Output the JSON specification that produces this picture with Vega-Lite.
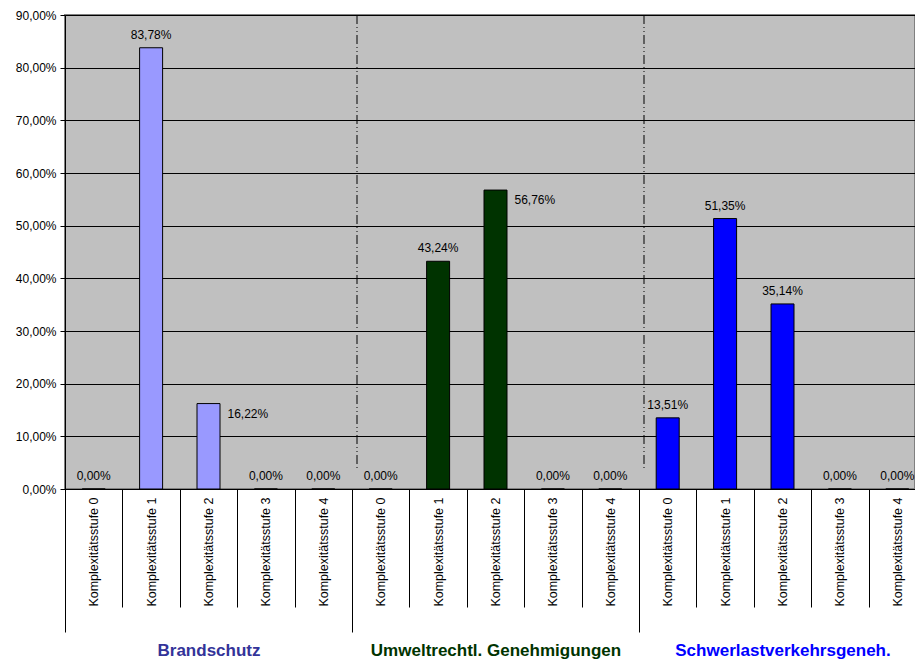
{
  "$schema": "https://vega.github.io/schema/vega-lite/v6.json",
  "autosize": {"type": "none"},
  "padding": {"left": 65, "top": 15, "right": 0, "bottom": 175},
  "width": 850,
  "height": 474,
  "background": "#ffffff",
  "config": {
    "font": "Liberation Sans",
    "view": {"fill": "#C0C0C0", "stroke": "#808080", "strokeWidth": 2},
    "axis": {"labelFont": "Liberation Sans", "labelColor": "#000000", "tickColor": "#000000", "domainColor": "#000000"}
  },
  "datasets": {
    "anteile": [
      {"gruppe": "Brandschutz", "stufe": "Komplexitätsstufe 0", "anteil": 0},
      {"gruppe": "Brandschutz", "stufe": "Komplexitätsstufe 1", "anteil": 83.78},
      {"gruppe": "Brandschutz", "stufe": "Komplexitätsstufe 2", "anteil": 16.22},
      {"gruppe": "Brandschutz", "stufe": "Komplexitätsstufe 3", "anteil": 0},
      {"gruppe": "Brandschutz", "stufe": "Komplexitätsstufe 4", "anteil": 0},
      {"gruppe": "Umweltrechtl. Genehmigungen", "stufe": "Komplexitätsstufe 0", "anteil": 0},
      {"gruppe": "Umweltrechtl. Genehmigungen", "stufe": "Komplexitätsstufe 1", "anteil": 43.24},
      {"gruppe": "Umweltrechtl. Genehmigungen", "stufe": "Komplexitätsstufe 2", "anteil": 56.76},
      {"gruppe": "Umweltrechtl. Genehmigungen", "stufe": "Komplexitätsstufe 3", "anteil": 0},
      {"gruppe": "Umweltrechtl. Genehmigungen", "stufe": "Komplexitätsstufe 4", "anteil": 0},
      {"gruppe": "Schwerlastverkehrsgeneh.", "stufe": "Komplexitätsstufe 0", "anteil": 13.51},
      {"gruppe": "Schwerlastverkehrsgeneh.", "stufe": "Komplexitätsstufe 1", "anteil": 51.35},
      {"gruppe": "Schwerlastverkehrsgeneh.", "stufe": "Komplexitätsstufe 2", "anteil": 35.14},
      {"gruppe": "Schwerlastverkehrsgeneh.", "stufe": "Komplexitätsstufe 3", "anteil": 0},
      {"gruppe": "Schwerlastverkehrsgeneh.", "stufe": "Komplexitätsstufe 4", "anteil": 0}
    ],
    "trenner": [
      {"gruppe": "Umweltrechtl. Genehmigungen"},
      {"gruppe": "Schwerlastverkehrsgeneh."}
    ]
  },
  "resolve": {"scale": {"x": "independent"}, "axis": {"x": "independent"}},
  "layer": [
    {
      "data": {"name": "anteile"},
      "transform": [
        {"calculate": "datum.gruppe + '|' + datum.stufe", "as": "kategorie"},
        {"calculate": "replace(format(datum.anteil, '.2f'), '.', ',') + '%'", "as": "beschriftung"}
      ],
      "encoding": {
        "x": {
          "field": "kategorie",
          "type": "nominal",
          "sort": null,
          "scale": {"range": [0, 861], "paddingInner": 0, "paddingOuter": 0},
          "axis": {
            "title": null,
            "orient": "bottom",
            "tickBand": "extent",
            "tickSize": 118,
            "tickWidth": 1,
            "labelAngle": -90,
            "labelAlign": "right",
            "labelBaseline": "middle",
            "labelPadding": -110,
            "labelFontSize": 12.5,
            "labelLimit": 0,
            "labelExpr": "split(datum.value, '|')[1]",
            "domainWidth": 1,
            "grid": false
          }
        },
        "y": {
          "field": "anteil",
          "type": "quantitative",
          "scale": {"domain": [0, 90], "nice": false},
          "axis": {
            "title": null,
            "values": [0, 10, 20, 30, 40, 50, 60, 70, 80, 90],
            "labelExpr": "replace(format(datum.value, '.2f'), '.', ',') + '%'",
            "labelFontSize": 12,
            "labelPadding": 4,
            "tickSize": 5,
            "grid": true,
            "gridColor": "#000000",
            "gridOpacity": 1,
            "gridWidth": 1
          }
        }
      },
      "layer": [
        {
          "mark": {"type": "bar", "width": 23, "stroke": "#000000", "strokeWidth": 1},
          "encoding": {
            "color": {
              "field": "gruppe",
              "type": "nominal",
              "scale": {
                "domain": ["Brandschutz", "Umweltrechtl. Genehmigungen", "Schwerlastverkehrsgeneh."],
                "range": ["#9999FF", "#003300", "#0000FF"]
              },
              "legend": null
            }
          }
        },
        {
          "transform": [
            {"filter": "!(datum.stufe == 'Komplexitätsstufe 2' && datum.gruppe != 'Schwerlastverkehrsgeneh.')"}
          ],
          "mark": {"type": "text", "fontSize": 12, "color": "#000000", "baseline": "alphabetic", "dy": -9},
          "encoding": {"text": {"field": "beschriftung"}}
        },
        {
          "transform": [
            {"filter": "datum.stufe == 'Komplexitätsstufe 2' && datum.gruppe != 'Schwerlastverkehrsgeneh.'"}
          ],
          "mark": {"type": "text", "fontSize": 12, "color": "#000000", "align": "left", "baseline": "middle", "dx": 19, "dy": 10},
          "encoding": {"text": {"field": "beschriftung"}}
        }
      ]
    },
    {
      "data": {"name": "trenner"},
      "mark": {"type": "rule", "color": "#000000", "strokeWidth": 1, "strokeDash": [9, 3, 1, 3, 1, 3], "xOffset": 5},
      "encoding": {
        "x": {
          "field": "gruppe",
          "type": "nominal",
          "bandPosition": 0,
          "scale": {
            "domain": ["Brandschutz", "Umweltrechtl. Genehmigungen", "Schwerlastverkehrsgeneh."],
            "range": [0, 861],
            "paddingInner": 0,
            "paddingOuter": 0
          },
          "axis": {
            "title": null,
            "orient": "bottom",
            "domain": false,
            "grid": false,
            "tickBand": "extent",
            "tickSize": 143,
            "tickWidth": 1,
            "labelAngle": 0,
            "labelAlign": "center",
            "labelBaseline": "top",
            "labelPadding": 10,
            "labelFontSize": 17,
            "labelFontWeight": "bold",
            "labelLimit": 0,
            "labelColor": {
              "condition": [
                {"test": "datum.value == 'Brandschutz'", "value": "#333399"},
                {"test": "datum.value == 'Umweltrechtl. Genehmigungen'", "value": "#003300"}
              ],
              "value": "#0000FF"
            }
          }
        },
        "y": {"datum": 90, "type": "quantitative"},
        "y2": {"datum": 3.5}
      }
    }
  ]
}
